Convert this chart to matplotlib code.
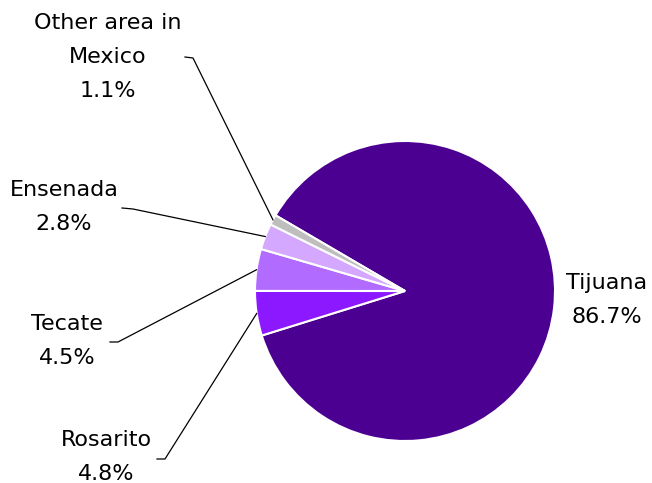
import matplotlib.pyplot as plt
import numpy as np

# dados
regioes = ['Tijuana', 'Rosarito', 'Tecate', 'Ensenada', 'Other area in\nMexico']
percentuais = [86.7, 4.8, 4.5, 2.8, 1.1]
cores = ['#4b0091', '#8b18ff', '#b16bff', '#d5a8ff', '#bebebe']

# posicoes dos rotulos (em pixels, y de cima para baixo)
pos_texto = [(607, 300), (106, 457), (67, 341), (64, 207), (108, 57)]
# cotovelo e fim da linha de chamada (None = sem linha)
linhas = [None,
          ((165, 459), (157, 459)),
          ((118, 342), (110, 342)),
          ((133, 209), (122, 208)),
          ((193, 58), (185, 57))]

H = 483
centro = (405, H - 291)
raio = 150

fig = plt.figure(figsize=(6.52, 4.83), dpi=100)
ax = fig.add_axes([0, 0, 1, 1])

fatias, _ = ax.pie(percentuais, colors=cores, startangle=149.7, counterclock=False,
                   center=centro, radius=raio,
                   wedgeprops=dict(edgecolor='white', linewidth=1.5))

for i, w in enumerate(fatias):
    tx, ty = pos_texto[i]
    ax.text(tx, H - ty, '%s\n%.1f%%' % (regioes[i], percentuais[i]),
            ha='center', va='center', fontsize=16, linespacing=1.88,
            family='DejaVu Sans')
    if linhas[i] is None:
        continue
    ang = np.deg2rad((w.theta1 + w.theta2) / 2)
    px = centro[0] + raio * np.cos(ang)
    py = centro[1] + raio * np.sin(ang)
    (ex, ey), (fx, fy) = linhas[i]
    ax.plot([px, ex, fx], [py, H - ey, H - fy], color='black', lw=0.9)

ax.set_xlim(0, 652)
ax.set_ylim(0, H)
ax.set_aspect('equal')
ax.axis('off')

fig.savefig('out.png', dpi=100)
